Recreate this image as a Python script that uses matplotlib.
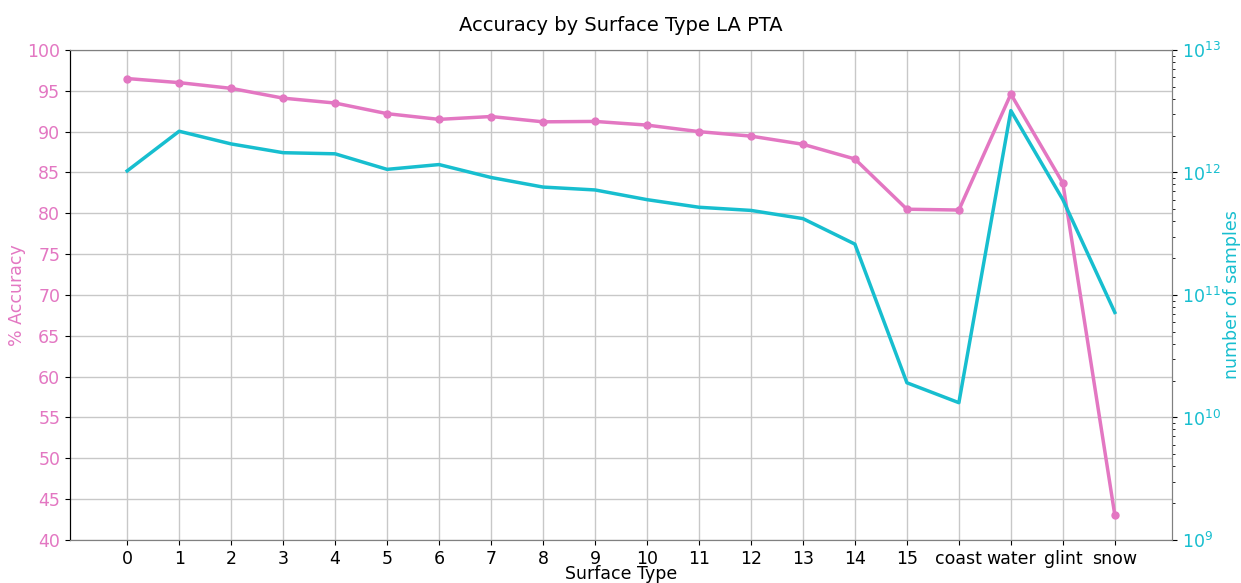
import numpy as np
import matplotlib.pyplot as plt

# surface type categories
surface_types = ['0', '1', '2', '3', '4', '5', '6', '7', '8', '9', '10', '11', '12',
                 '13', '14', '15', 'coast', 'water', 'glint', 'snow']

# accuracy per surface type (%)
accuracy = [96.5, 96.0, 95.3, 94.1, 93.5, 92.2, 91.5, 91.85, 91.2, 91.25,
            90.8, 90.0, 89.45, 88.45, 86.65, 80.5, 80.4, 94.6, 83.7, 43.05]

# number of samples per surface type
n_samples = [1.03e12, 2.17e12, 1.71e12, 1.45e12, 1.42e12, 1.06e12, 1.16e12, 9.1e11,
             7.6e11, 7.2e11, 6.0e11, 5.2e11, 4.9e11, 4.2e11, 2.6e11, 1.92e10,
             1.32e10, 3.2e12, 6.0e11, 7.2e10]

acc_color = 'tab:pink'
n_color = 'tab:cyan'
x = np.arange(len(surface_types))

fig = plt.figure(figsize=(12.41, 5.83), dpi=100)
ax = fig.add_axes([0.0564, 0.0738, 0.8880, 0.8405])

ax.plot(x, accuracy, color=acc_color, lw=2.5, marker='o', ms=5, zorder=3)
ax.set_ylim(40, 100)
ax.set_yticks(np.arange(40, 101, 5))
ax.set_xlim(-1.1, 20.1)
ax.set_xticks(x)
ax.set_xticklabels(surface_types)
ax.tick_params(axis='x', labelsize=12.5)
ax.tick_params(axis='y', labelsize=12.5, labelcolor=acc_color)
ax.set_ylabel('% Accuracy', color=acc_color, fontsize=12.5, labelpad=1)
ax.set_xlabel('Surface Type', fontsize=12.5)
ax.xaxis.set_label_coords(0.5, -0.052)
ax.grid(True, color='#c8c8c8', lw=1)
ax.set_axisbelow(True)
for side in ['top', 'bottom', 'right']:
    ax.spines[side].set_color('#808080')

ax2 = ax.twinx()
ax2.plot(x, n_samples, color=n_color, lw=2.5, zorder=3)
ax2.set_yscale('log')
ax2.set_ylim(1e9, 1e13)
ax2.tick_params(axis='y', labelsize=12.5, labelcolor=n_color)
ax2.set_ylabel('number of samples', color=n_color, fontsize=12.5, labelpad=2)
for side in ['top', 'bottom', 'right']:
    ax2.spines[side].set_color('#808080')

ax.set_title('Accuracy by Surface Type LA PTA', fontsize=14, pad=14)

fig.savefig('out.png', dpi=100)
